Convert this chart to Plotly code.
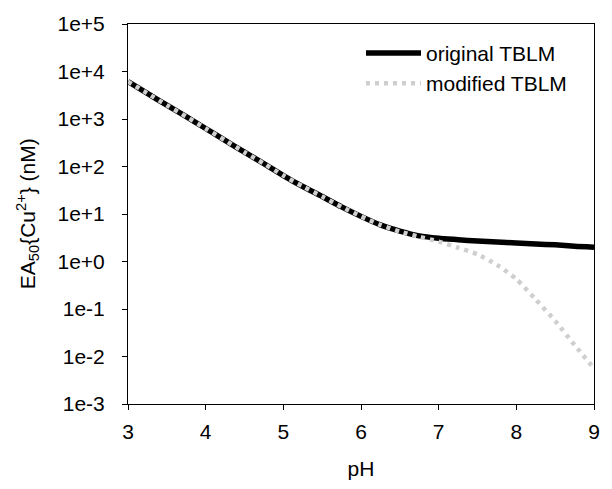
import plotly.graph_objects as go

ph = [3.00, 3.25, 3.50, 3.75, 4.00, 4.25, 4.50, 4.75, 5.00, 5.25, 5.50, 5.75,
      6.00, 6.25, 6.50, 6.75, 7.00, 7.25, 7.50, 7.75, 8.00, 8.25, 8.50, 8.75, 9.00]

original_tblm = [6110, 3467, 1950, 1122, 631, 355, 200, 115, 64.6, 38.0, 23.4, 14.1,
                 8.91, 5.89, 4.37, 3.47, 3.09, 2.88, 2.69, 2.57, 2.45, 2.34, 2.24, 2.09, 2.00]

modified_tblm = [6110, 3467, 1950, 1122, 631, 355, 200, 115, 64.6, 38.0, 23.4, 14.1,
                 8.91, 5.89, 4.27, 3.31, 2.63, 1.95, 1.41, 0.851, 0.427, 0.158, 0.0562, 0.0174, 0.00562]

y_tickvals = [1e-3, 1e-2, 1e-1, 1e0, 1e1, 1e2, 1e3, 1e4, 1e5]
y_ticktext = ["1e-3", "1e-2", "1e-1", "1e+0", "1e+1", "1e+2", "1e+3", "1e+4", "1e+5"]
x_tickvals = [3, 4, 5, 6, 7, 8, 9]

FONT = "Liberation Sans, Arial, sans-serif"
FS = 21

fig = go.Figure()
fig.add_trace(go.Scatter(
    x=ph, y=original_tblm, mode="lines", name="original TBLM",
    line=dict(color="black", width=5.5, shape="spline", smoothing=0.6),
))
fig.add_trace(go.Scatter(
    x=ph, y=modified_tblm, mode="lines", name="modified TBLM",
    line=dict(color="#cfcfcf", width=4.5, shape="spline", smoothing=0.6, dash="4px,5px"),
))

fig.update_layout(
    width=612, height=489,
    margin=dict(l=128, r=17, t=15, b=84),
    paper_bgcolor="white", plot_bgcolor="white",
    font=dict(family=FONT, size=FS, color="black"),
    showlegend=True,
    legend=dict(
        x=0.50, y=0.977, xanchor="left", yanchor="top",
        bgcolor="rgba(0,0,0,0)", borderwidth=0,
        font=dict(family=FONT, size=FS, color="black"),
        itemwidth=55, tracegroupgap=0,
    ),
    xaxis=dict(
        range=[3, 9], tickvals=x_tickvals, ticks="outside", ticklen=5,
        tickcolor="black", tickwidth=1, showline=True, linecolor="black", linewidth=1,
        mirror=True, showgrid=False, zeroline=False, ticklabelstandoff=4,
        tickfont=dict(family=FONT, size=FS, color="black"),
        title=dict(text="pH", font=dict(family=FONT, size=FS, color="black"), standoff=19),
    ),
    yaxis=dict(
        type="log", range=[-3, 5], tickvals=y_tickvals, ticktext=y_ticktext,
        ticks="outside", ticklen=5, tickcolor="black", tickwidth=1,
        showline=True, linecolor="black", linewidth=1, mirror=True,
        showgrid=False, zeroline=False, ticklabelstandoff=13,
        tickfont=dict(family=FONT, size=FS, color="black"),
    ),
    annotations=[dict(
        text="EA<sub>50</sub>{Cu<sup>2+</sup>} (nM)",
        xref="paper", yref="paper", x=(27 - 128) / 467, y=0.5,
        xanchor="center", yanchor="middle", textangle=-90, showarrow=False,
        font=dict(family=FONT, size=FS, color="black"),
    )],
)

fig.write_html("out.html")
